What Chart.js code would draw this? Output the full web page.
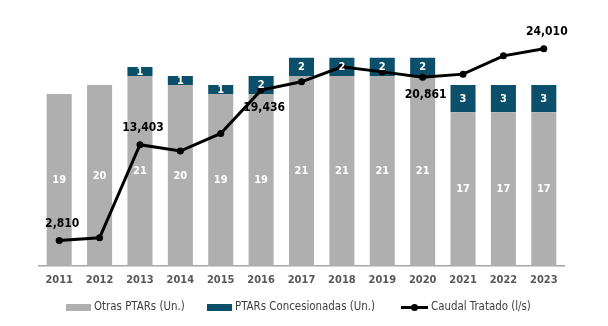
<!DOCTYPE html>
<html>
<head>
<meta charset="utf-8">
<script src="https://cdn.jsdelivr.net/npm/chart.js@4"></script>
<style>
  html, body { margin: 0; padding: 0; background: #fff; }
  #wrap { width: 608px; height: 326px; }
</style>
</head>
<body>
<div id="wrap"><canvas id="ptarChart" width="608" height="326"></canvas></div>
<script>
// Data
const years = ['2011', '2012', '2013', '2014', '2015', '2016', '2017', '2018', '2019', '2020', '2021', '2022', '2023'];
const otrasPtars = [19, 20, 21, 20, 19, 19, 21, 21, 21, 21, 17, 17, 17];
const ptarsConcesionadas = [0, 0, 1, 1, 1, 2, 2, 2, 2, 2, 3, 3, 3];
const caudalTratado = [2810, 3120, 13403, 12700, 14650, 19436, 20350, 22010, 21450, 20861, 21200, 23220, 24010];

// which line points get a value label, and on which side
const lineLabels = { 0: 'above', 2: 'above', 5: 'below', 9: 'below', 12: 'above' };

const GRAY = '#afafaf';
const TEAL = '#0b4f6b';
const FONT = "'DejaVu Sans Condensed', 'DejaVu Sans', sans-serif";

// value labels on bars and line
const labelPlugin = {
    id: 'valueLabels',
    afterDatasetsDraw(chart) {
        const ctx = chart.ctx;
        ctx.save();
        ctx.textAlign = 'center';
        ctx.textBaseline = 'middle';

        // bar labels (white, centred in each segment)
        ctx.fillStyle = '#fff';
        ctx.font = 'bold 11px ' + FONT;
        [1, 2].forEach(di => {
            const ds = chart.data.datasets[di];
            chart.getDatasetMeta(di).data.forEach((el, j) => {
                const v = ds.data[j];
                if (!v) return;
                const p = el.getProps(['x', 'y', 'base'], true);
                ctx.fillText(String(v), p.x, (p.y + p.base) / 2 + 0.5);
            });
        });

        // line labels
        ctx.fillStyle = '#000';
        ctx.font = 'bold 12px ' + FONT;
        const lds = chart.data.datasets[0];
        chart.getDatasetMeta(0).data.forEach((el, j) => {
            const side = lineLabels[j];
            if (!side) return;
            const txt = lds.data[j].toLocaleString('en-US');
            const y = side === 'above' ? el.y - 17 : el.y + 18;
            ctx.fillText(txt, el.x + 3, y);
        });
        ctx.restore();
    }
};

// legend drawn at the bottom, like the original
const legendPlugin = {
    id: 'bottomLegend',
    afterDraw(chart) {
        const ctx = chart.ctx;
        const y = 307.5;
        const xs = [66, 207, 401];
        const order = [1, 2, 0];
        ctx.save();
        ctx.font = '11.4px ' + FONT;
        ctx.textBaseline = 'middle';
        ctx.textAlign = 'left';
        order.forEach((di, k) => {
            const ds = chart.data.datasets[di];
            const x = xs[k];
            if (ds.type === 'line') {
                ctx.strokeStyle = '#000';
                ctx.lineWidth = 3;
                ctx.beginPath();
                ctx.moveTo(x, y);
                ctx.lineTo(x + 27, y);
                ctx.stroke();
                ctx.fillStyle = '#000';
                ctx.beginPath();
                ctx.arc(x + 13.5, y, 3.5, 0, Math.PI * 2);
                ctx.fill();
                ctx.fillStyle = '#404040';
                ctx.fillText(ds.label, x + 30, y);
            } else {
                ctx.fillStyle = ds.backgroundColor;
                ctx.fillRect(x, y - 3.5, 25, 7);
                ctx.fillStyle = '#404040';
                ctx.fillText(ds.label, x + 28, y);
            }
        });
        ctx.restore();
    }
};

new Chart(document.getElementById('ptarChart'), {
    data: {
        labels: years,
        datasets: [
            {
                type: 'line',
                label: 'Caudal Tratado (l/s)',
                data: caudalTratado,
                yAxisID: 'y1',
                borderColor: '#000',
                backgroundColor: '#000',
                borderWidth: 3,
                pointRadius: 3.5,
                pointBackgroundColor: '#000',
                pointBorderWidth: 0,
                tension: 0,
                order: 0
            },
            {
                type: 'bar',
                label: 'Otras PTARs (Un.)',
                data: otrasPtars,
                yAxisID: 'y',
                backgroundColor: GRAY,
                barPercentage: 0.62,
                categoryPercentage: 1,
                order: 1
            },
            {
                type: 'bar',
                label: 'PTARs Concesionadas (Un.)',
                data: ptarsConcesionadas,
                yAxisID: 'y',
                backgroundColor: TEAL,
                barPercentage: 0.62,
                categoryPercentage: 1,
                order: 2
            }
        ]
    },
    options: {
        responsive: false,
        animation: false,
        layout: { padding: { left: 39, right: 44, top: 12.6, bottom: 30.8 } },
        plugins: {
            legend: { display: false },
            tooltip: { enabled: false }
        },
        scales: {
            x: {
                stacked: true,
                grid: { display: false, drawTicks: false },
                border: { display: true, color: '#a6a6a6', width: 1.5 },
                ticks: {
                    color: '#595959',
                    font: { family: FONT, size: 11, weight: 'bold' },
                    padding: 8
                }
            },
            y: {
                stacked: true,
                display: false,
                min: 0,
                max: 28
            },
            y1: {
                display: false,
                min: 0,
                max: 28000
            }
        }
    },
    plugins: [labelPlugin, legendPlugin]
});
</script>
</body>
</html>
